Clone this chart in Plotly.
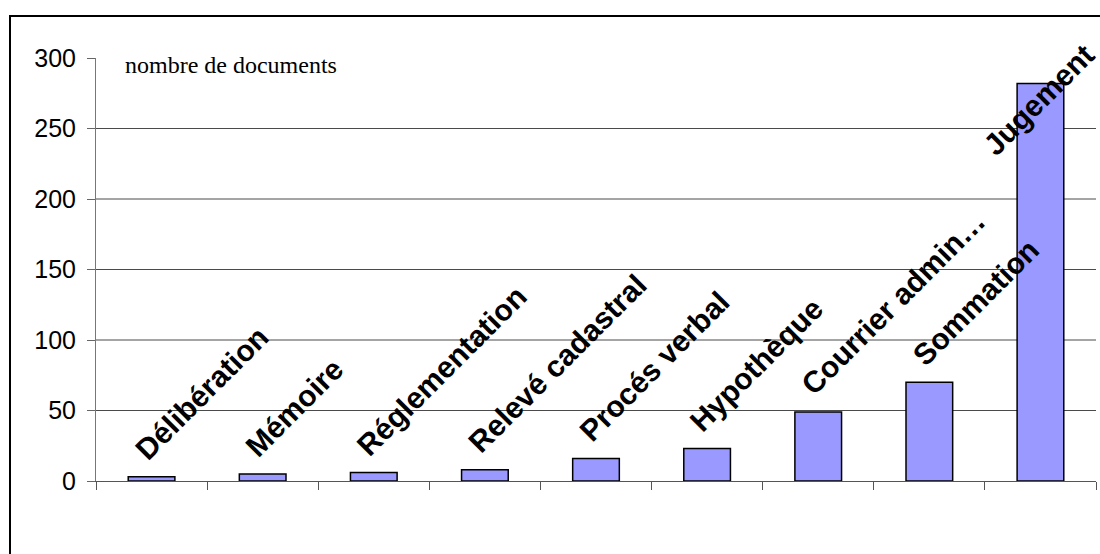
import plotly.graph_objects as go

categories = ["Délibération", "Mémoire", "Réglementation", "Relevé cadastral",
              "Procés verbal", "Hypothèque", "Courrier admin…", "Sommation", "Jugement"]
counts = [3, 5, 6, 8, 16, 23, 49, 70, 282]
y_ticks = [0, 50, 100, 150, 200, 250, 300]
grid_values = [50, 100, 150, 200, 250]
series_title = "nombre de documents"

# label placement (style): default nudge and overrides for labels clamped inside chart
label_shift = (-26, 8)
label_override = {"Jugement": (-66, -81)}

fig = go.Figure()
fig.add_trace(go.Bar(
    x=categories, y=counts, width=0.42,
    marker=dict(color="#9999FF", line=dict(color="black", width=1.5)),
    hoverinfo="x+y",
))

shapes = []
for g in grid_values:
    shapes.append(dict(type="line", xref="paper", yref="y", x0=0, x1=1, y0=g, y1=g,
                       line=dict(color="#4a4a4a", width=1), layer="below"))
# outer chart border
shapes.append(dict(type="rect", xref="paper", yref="paper",
                   x0=-0.086, x1=1.2, y0=-0.6, y1=1 + 42 / 423,
                   line=dict(color="black", width=2), fillcolor="rgba(0,0,0,0)", layer="above"))

annotations = []
for c, v in zip(categories, counts):
    dx, dy = label_override.get(c, label_shift)
    annotations.append(dict(
        x=c, y=v, xref="x", yref="y", text=c, showarrow=False, textangle=-45,
        xanchor="left", yanchor="bottom", xshift=dx, yshift=dy,
        font=dict(family="Liberation Sans, Arial", size=30, color="black", weight="bold"),
    ))
annotations.append(dict(
    x=0.027, y=0.984, xref="paper", yref="paper", text=series_title, showarrow=False,
    xanchor="left", yanchor="middle",
    font=dict(family="Liberation Serif, Times New Roman", size=24, color="black"),
))

fig.update_layout(
    width=1100, height=554,
    margin=dict(l=96, r=4, t=58, b=73, pad=0, autoexpand=False),
    paper_bgcolor="white", plot_bgcolor="white",
    showlegend=False,
    shapes=shapes, annotations=annotations,
    bargap=0.58,
    xaxis=dict(type="category", range=[-0.5, len(categories) - 0.5], autorange=False,
               tickson="boundaries", ticks="outside", ticklen=8,
               tickcolor="#555555", showticklabels=False, showgrid=False, automargin=False,
               showline=True, linecolor="#555555", linewidth=1, zeroline=False),
    yaxis=dict(range=[0, 300], tickvals=y_ticks, ticks="outside", ticklen=8, automargin=False,
               tickcolor="#666666", showgrid=False, showline=True, linecolor="#777777",
               linewidth=1, zeroline=False, ticklabelstandoff=6,
               tickfont=dict(family="Liberation Sans, Arial", size=25, color="black")),
)

fig.write_html("out.html", config={"displayModeBar": False},
               post_script="document.body.style.margin='0';document.body.style.overflow='hidden';")
